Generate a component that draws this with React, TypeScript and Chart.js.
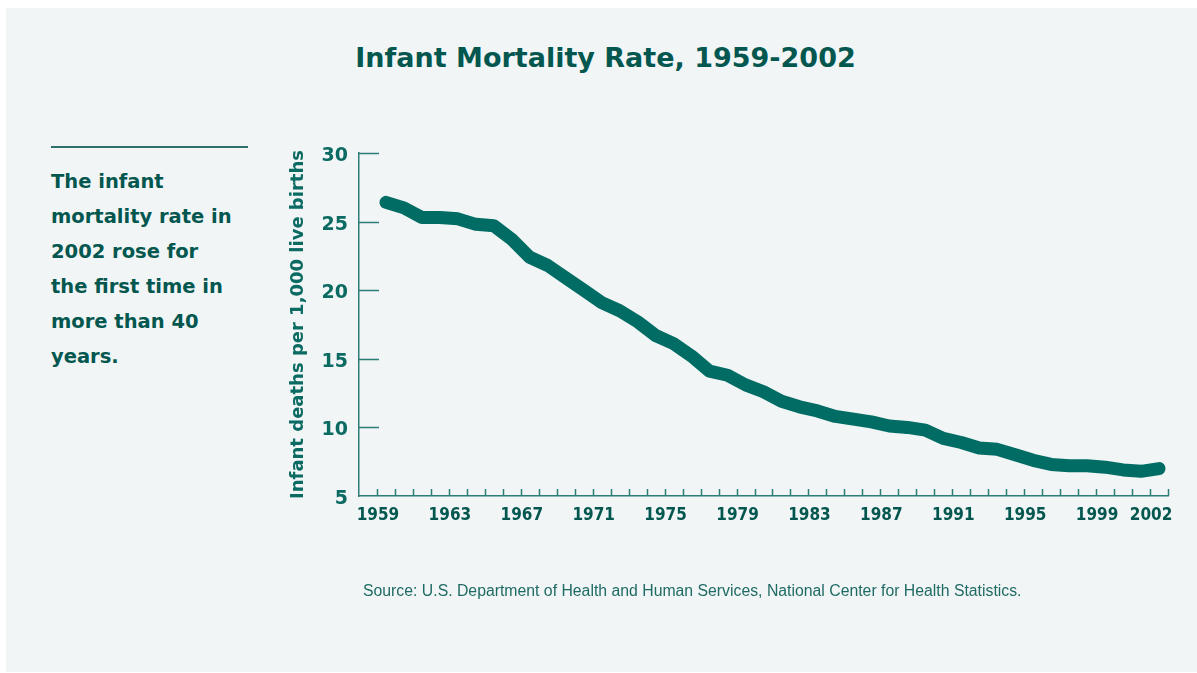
import React, { useEffect, useRef } from "react";
import { Chart, registerables } from "chart.js";

Chart.register(...registerables);

// Infant mortality per 1,000 live births, one value per year
const years = [
  1959, 1960, 1961, 1962, 1963, 1964, 1965, 1966, 1967, 1968, 1969, 1970,
  1971, 1972, 1973, 1974, 1975, 1976, 1977, 1978, 1979, 1980, 1981, 1982,
  1983, 1984, 1985, 1986, 1987, 1988, 1989, 1990, 1991, 1992, 1993, 1994,
  1995, 1996, 1997, 1998, 1999, 2000, 2001, 2002,
];
const rates = [
  26.4, 26.0, 25.3, 25.3, 25.2, 24.8, 24.7, 23.7, 22.4, 21.8, 20.9, 20.0,
  19.1, 18.5, 17.7, 16.7, 16.1, 15.2, 14.1, 13.8, 13.1, 12.6, 11.9, 11.5,
  11.2, 10.8, 10.6, 10.4, 10.1, 10.0, 9.8, 9.2, 8.9, 8.5, 8.4, 8.0,
  7.6, 7.3, 7.2, 7.2, 7.1, 6.9, 6.8, 7.0,
];
const xLabelYears = [1959, 1963, 1967, 1971, 1975, 1979, 1983, 1987, 1991, 1995, 1999, 2002];
const yTicks = [5, 10, 15, 20, 25, 30];

const TITLE = "Infant Mortality Rate, 1959-2002";
const NOTE_LINES = [
  "The infant",
  "mortality rate in",
  "2002 rose for",
  "the first time in",
  "more than 40",
  "years.",
];
const Y_TITLE = "Infant deaths per 1,000 live births";
const SOURCE =
  "Source: U.S. Department of Health and Human Services, National Center for Health Statistics.";

const TEAL = "#006c63";
const DARK = "#03574f";
const AXIS = "#2b7d76";
const PANEL = "#f1f5f6";
const HEAVY = "'DejaVu Sans', sans-serif";

// Short tick marks pointing into the plot from both axes
const inwardTicks = {
  id: "inwardTicks",
  beforeDatasetsDraw(chart: any) {
    const { ctx, scales } = chart;
    const x = scales.x;
    const y = scales.y;
    ctx.save();
    ctx.strokeStyle = AXIS;
    ctx.lineWidth = 1.5;
    ctx.beginPath();
    for (let yr = 1959; yr <= 2003; yr++) {
      const px = Math.round(x.getPixelForValue(yr)) + 0.5;
      ctx.moveTo(px, y.bottom);
      ctx.lineTo(px, y.bottom - 7);
    }
    for (const v of yTicks) {
      if (v === 5) continue;
      const py = Math.round(y.getPixelForValue(v)) + 0.5;
      ctx.moveTo(x.left, py);
      ctx.lineTo(x.left + 20, py);
    }
    ctx.stroke();
    ctx.restore();
  },
};

function MortalityChart() {
  const ref = useRef<HTMLCanvasElement | null>(null);
  useEffect(() => {
    if (!ref.current) return;
    const chart = new Chart(ref.current, {
      type: "line",
      data: {
        datasets: [
          {
            data: years.map((yr, i) => ({ x: yr + 0.5, y: rates[i] })),
            borderColor: TEAL,
            borderWidth: 13,
            borderCapStyle: "round",
            borderJoinStyle: "round",
            pointRadius: 0,
            tension: 0,
            fill: false,
          },
        ],
      },
      options: {
        animation: false,
        responsive: false,
        events: [],
        layout: { padding: { left: 280, top: 153, right: 29, bottom: 137 } },
        plugins: { legend: { display: false }, tooltip: { enabled: false } },
        scales: {
          x: {
            type: "linear",
            min: 1958,
            max: 2003,
            afterBuildTicks: (s: any) => {
              const t = [];
              for (let yr = 1958; yr <= 2003; yr++) t.push({ value: yr });
              s.ticks = t;
            },
            afterFit: (s: any) => {
              s.height = 40;
            },
            grid: { display: false, drawTicks: false },
            border: { display: true, color: AXIS, width: 1.5 },
            ticks: {
              autoSkip: false,
              maxRotation: 0,
              padding: 9,
              labelOffset: 1,
              color: DARK,
              font: { family: "'Liberation Sans Narrow', 'DejaVu Sans Condensed', sans-serif", size: 17, weight: "bold" },
              callback: (v: any) => (xLabelYears.includes(Number(v)) ? String(v) : ""),
            },
          },
          y: {
            type: "linear",
            min: 5,
            max: 30,
            afterBuildTicks: (s: any) => {
              s.ticks = yTicks.map((v) => ({ value: v }));
            },
            afterFit: (s: any) => {
              s.width = 79;
            },
            grid: { display: false, drawTicks: false },
            border: { display: true, color: AXIS, width: 1.5 },
            ticks: {
              padding: 11,
              labelOffset: 3,
              color: "#0b6b63",
              font: { family: HEAVY, size: 19, weight: "bold" },
            },
            title: {
              display: true,
              text: Y_TITLE,
              color: "#0b6b63",
              padding: { top: 8, bottom: 0 },
              font: { family: HEAVY, size: 18, weight: "bold" },
            },
          },
        },
      },
      plugins: [inwardTicks],
    } as any);
    return () => chart.destroy();
  }, []);
  return (
    <canvas
      ref={ref}
      width={1197}
      height={673}
      style={{ position: "absolute", left: 0, top: 0, width: 1197, height: 673 }}
    />
  );
}

export default function App() {
  return (
    <div style={{ position: "absolute", left: 0, top: 0, width: 1197, height: 673, overflow: "hidden" }}>
      <div style={{ position: "absolute", left: 6, top: 8, width: 1191, height: 664, background: PANEL }} />
      <div
        style={{
          position: "absolute",
          left: 0,
          width: 1211,
          top: 38,
          textAlign: "center",
          fontFamily: HEAVY,
          fontWeight: 700,
          fontSize: 27,
          lineHeight: "40px",
          color: DARK,
          whiteSpace: "nowrap",
        }}
      >
        {TITLE}
      </div>
      <div style={{ position: "absolute", left: 51, top: 146, width: 197, height: 1.5, background: "#2f6f6a" }} />
      <div
        style={{
          position: "absolute",
          left: 51,
          top: 164,
          fontFamily: HEAVY,
          fontWeight: 700,
          fontSize: 19.5,
          lineHeight: "35px",
          color: DARK,
          whiteSpace: "nowrap",
        }}
      >
        {NOTE_LINES.map((l, i) => (
          <div key={i}>{l}</div>
        ))}
      </div>
      <MortalityChart />
      <div
        style={{
          position: "absolute",
          left: 363,
          top: 581,
          fontFamily: "'Liberation Sans Narrow', sans-serif",
          fontSize: 15.8,
          lineHeight: "20px",
          color: "#1f6b64",
          whiteSpace: "nowrap",
        }}
      >
        {SOURCE}
      </div>
    </div>
  );
}
